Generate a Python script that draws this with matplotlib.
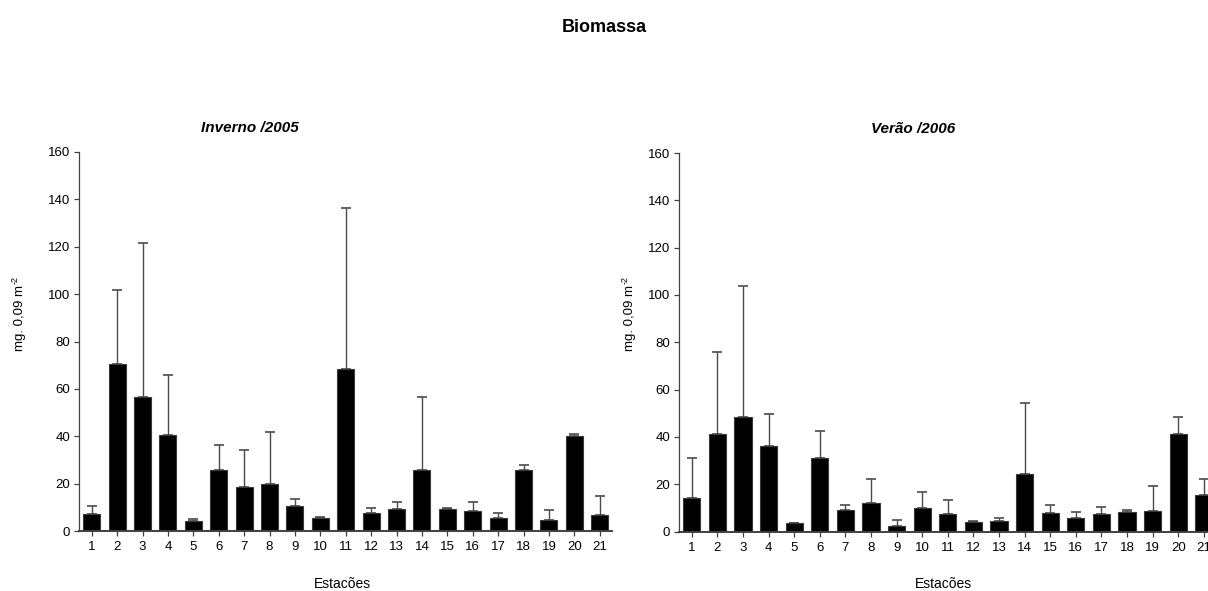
import numpy as np
import matplotlib
matplotlib.use("Agg")
import matplotlib.pyplot as plt

plt.rcParams['font.family'] = ['Liberation Sans', 'DejaVu Sans']

estacoes = list(range(1, 22))

# Inverno /2005: mean biomass and upper deviation top
inverno = [7.2, 70.7, 56.7, 40.6, 4.2, 25.7, 18.6, 19.8, 10.4, 5.6, 68.3,
           7.6, 9.3, 25.7, 9.4, 8.3, 5.5, 25.7, 4.6, 40.2, 6.6]
inverno_top = [10.4, 101.8, 121.5, 65.8, 4.9, 36.1, 34.4, 41.6, 13.6, 6.0, 136.4,
               9.6, 12.2, 56.4, 9.5, 12.1, 7.5, 27.8, 8.7, 40.8, 14.9]

# Verão /2006
verao = [14.1, 41.3, 48.5, 36.2, 3.4, 31.2, 9.2, 12.0, 2.5, 9.9, 7.6,
         4.2, 4.5, 24.4, 7.9, 5.6, 7.2, 8.3, 8.7, 41.3, 15.5]
verao_top = [31.2, 76.0, 103.7, 49.8, 3.5, 42.6, 11.3, 22.4, 4.8, 16.8, 13.5,
             4.4, 5.9, 54.3, 11.1, 8.2, 10.3, 9.0, 19.2, 48.6, 22.0]

W, H = 1208, 591
fig = plt.figure(figsize=(W / 100, H / 100), dpi=100)


def painel(rect, vals, tops, titulo, title_x):
    ax = fig.add_axes(rect)
    x = np.array(estacoes)
    vals = np.array(vals)
    err = np.array(tops) - vals
    ax.bar(x, vals, width=0.67, color='black', edgecolor='#3a3a3a', linewidth=0.8, zorder=2)
    ax.errorbar(x, vals, yerr=[np.zeros_like(err), err], fmt='none', ecolor='#4a4a4a',
                elinewidth=1.0, capsize=3.8, capthick=1.2, zorder=1)
    ax.set_xlim(0.5, 21.5)
    ax.set_ylim(0, 160)
    ax.set_yticks(range(0, 161, 20))
    ax.set_xticks(x)
    ax.set_xticklabels([str(e) for e in estacoes])
    for s in ['top', 'right']:
        ax.spines[s].set_visible(False)
    ax.spines['left'].set_color('#404040')
    ax.spines['left'].set_linewidth(0.9)
    ax.spines['bottom'].set_color('#404040')
    ax.spines['bottom'].set_linewidth(1.4)
    ax.tick_params(axis='both', direction='out', length=3.5, width=0.9, color='#404040',
                   labelsize=9.5, pad=4)
    ax.tick_params(axis='y', pad=3)
    ax.set_title(titulo, x=title_x, y=1.03, fontsize=11, fontweight='bold', fontstyle='italic')
    return ax


ax1 = painel([79 / W, 1 - 531 / H, 533.4 / W, 379 / H], inverno, inverno_top, 'Inverno /2005', 0.32)
ax2 = painel([679 / W, 1 - 531.5 / H, 537.6 / W, 378.5 / H], verao, verao_top, 'Verão /2006', 0.435)

# y label with a small "-2" exponent set beside the unit
for xpix in (20, 630):
    t = fig.text(xpix / W, 1 - 318 / H, 'mg. 0,09 m', rotation=90, ha='center', va='center',
                 fontsize=9.5)
    ax1.annotate('-2', xy=(0, 1), xycoords=t, xytext=(-2.5, 1), textcoords='offset points',
                 rotation=90, fontsize=6.5, ha='left', va='bottom', annotation_clip=False)

fig.text(342 / W, 1 - 584 / H, 'Estacões', ha='center', va='center', fontsize=10)
fig.text(943 / W, 1 - 584 / H, 'Estacões', ha='center', va='center', fontsize=10)

fig.text(0.5, 1 - 27 / H, 'Biomassa', ha='center', va='center', fontsize=13, fontweight='bold')

fig.savefig('out.png', dpi=100)
